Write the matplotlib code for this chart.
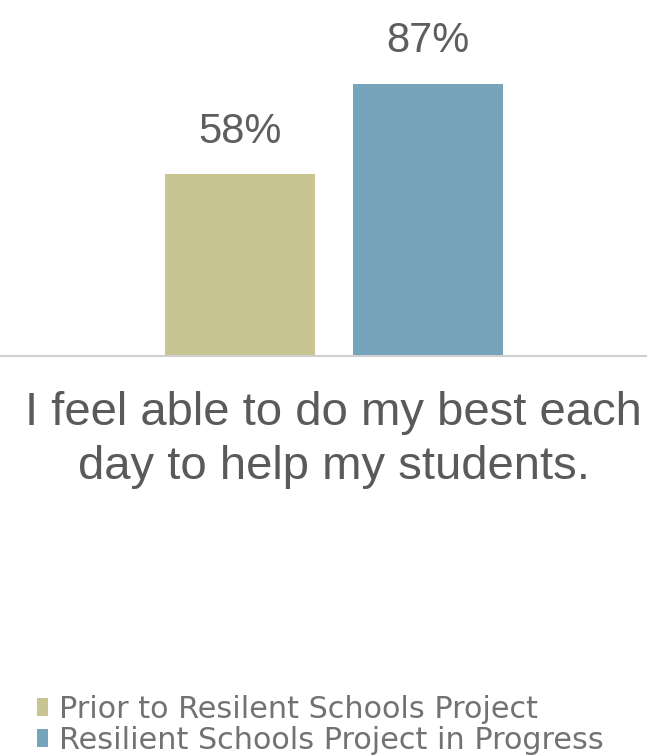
import matplotlib.pyplot as plt

plt.rcParams['font.family'] = ['Liberation Sans', 'DejaVu Sans']

category = "I feel able to do my best each\nday to help my students."
series = ["Prior to Resilent Schools Project", "Resilient Schools Project in Progress"]
values = [58, 87]
colors = ["#c9c593", "#75a4bb"]
offsets = [-0.5, 0.5]

fig = plt.figure(figsize=(6.47, 7.55), dpi=100)
ax = fig.add_axes([0, 0.5285, 1, 0.4146])

bars = []
for name, v, c, off in zip(series, values, colors, offsets):
    b = ax.bar(off, v, width=0.8, color=c, label=name)
    bars.append(b)
    ax.text(off, v + 13.7, f"{v}%", ha='center', va='center', fontsize=30, color='#5e5e5e')

ax.set_xlim(-1.78, 1.67)
ax.set_ylim(0, 100)
for s in ['top', 'right', 'left']:
    ax.spines[s].set_visible(False)
ax.spines['bottom'].set_color('#d0d0d0')
ax.spines['bottom'].set_linewidth(1.5)
ax.set_yticks([])
ax.set_xticks([0])
ax.set_xticklabels([category], fontsize=34, color='#5a5a5a', linespacing=1.3)
ax.tick_params(axis='x', length=0, pad=25)

# fragment of the previous group's label at the left edge
ax.text(-1.785, 28, "7", ha='right', va='center', fontsize=30, color='#5e5e5e', clip_on=False)

fig.legend(handles=[b[0] for b in bars], labels=series, loc='lower left',
           bbox_to_anchor=(0.015, -0.036), frameon=False,
           prop={'family': 'DejaVu Sans', 'size': 21.8},
           handlelength=0.35, handleheight=0.55, handletextpad=0.38,
           labelspacing=0.08, labelcolor='#727272')

fig.savefig("out.png", dpi=100)
